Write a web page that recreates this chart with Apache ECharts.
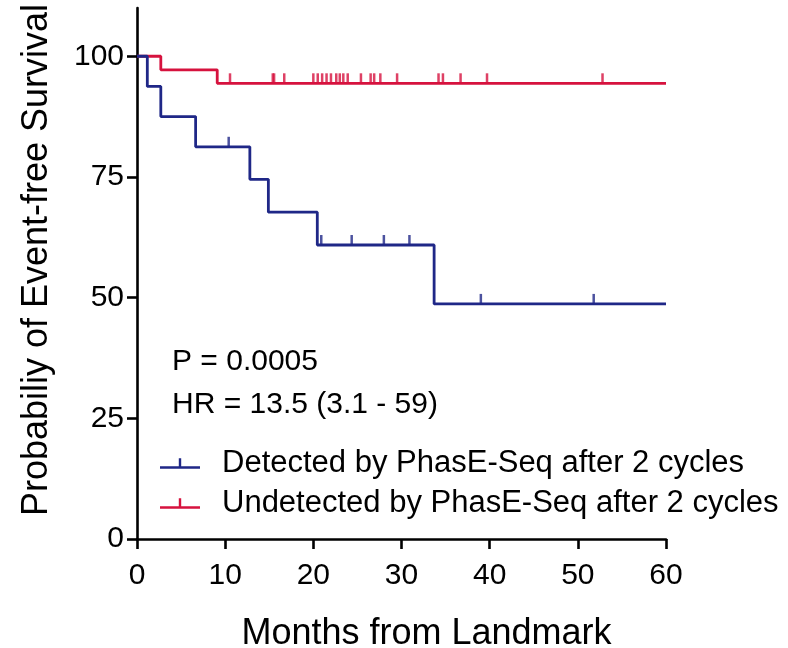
<!DOCTYPE html>
<html>
<head>
<meta charset="utf-8">
<script src="https://cdn.jsdelivr.net/npm/echarts@6/dist/echarts.min.js"></script>
<style>
html,body{margin:0;padding:0;background:#fff;}
#c{width:788px;height:648px;}
</style>
</head>
<body>
<div id="c"></div>
<script>
// ---- data ----
const seriesNames = ['Detected by PhasE-Seq after 2 cycles', 'Undetected by PhasE-Seq after 2 cycles'];
// KM steps: [month, survival %]
const detectedSteps = [[0,100],[1.17,93.75],[2.7,87.5],[6.65,81.25],[12.8,74.5],[14.9,67.7],[20.45,60.9],[33.7,48.7],[60,48.7]];
const undetectedSteps = [[0,100],[2.7,97.2],[9.1,94.4],[60,94.4]];
// censor times (months)
const detectedCensor = [10.4, 20.9, 24.35, 28.0, 30.9, 39.0, 51.8];
const undetectedCensor = [10.55, 15.4, 15.55, 16.7, 20.0, 20.5, 21.0, 21.5, 22.0, 22.6, 23.0, 23.4, 23.9, 25.4, 26.5, 26.9, 27.6, 29.5, 34.2, 34.7, 36.7, 39.7, 52.8];
const xTicks = [0,10,20,30,40,50,60];
const yTicks = [0,25,50,75,100];
const annotations = ['P = 0.0005', 'HR = 13.5 (3.1 - 59)'];
const xTitle = 'Months from Landmark';
const yTitle = 'Probabiliy of Event-free Survival';

const BLUE = '#1f2787';
const RED = '#d6123e';
const FONT = 'Liberation Sans, Arial, Helvetica, sans-serif';

function survAt(steps, t) {
  let v = steps[0][1];
  for (const [x, y] of steps) { if (x <= t) v = y; }
  return v;
}
const detCensorPts = detectedCensor.map(t => [t, survAt(detectedSteps, t)]);
const undCensorPts = undetectedCensor.map(t => [t, survAt(undetectedSteps, t)]);

const icon = 'path://M0,8 L40,8 L40,10.5 L0,10.5 Z M18.8,0 L21.2,0 L21.2,8 L18.8,8 Z';

const chart = echarts.init(document.getElementById('c'), null, {renderer: 'canvas'});
chart.setOption({
  animation: false,
  backgroundColor: '#fff',
  textStyle: {fontFamily: FONT},
  grid: {left: 137, top: 8, width: 529, height: 531, containLabel: false, outerBoundsMode: 'none'},
  xAxis: {
    type: 'value', min: 0, max: 60, interval: 10,
    name: xTitle, nameLocation: 'middle', nameGap: 77,
    nameTextStyle: {fontSize: 36, color: '#000', fontFamily: FONT, padding: [0,0,0,50]},
    axisLine: {show: true, lineStyle: {color: '#000', width: 2.6}},
    axisTick: {show: true, length: 10, lineStyle: {color: '#000', width: 2.6}, customValues: xTicks},
    axisLabel: {fontSize: 30, color: '#000', margin: 22, fontFamily: FONT, customValues: xTicks},
    splitLine: {show: false}
  },
  yAxis: {
    type: 'value', min: 0, max: 110,
    name: yTitle, nameLocation: 'middle', nameGap: 82, nameRotate: 90,
    nameTextStyle: {fontSize: 36, color: '#000', fontFamily: FONT, padding: [0,0,0,27]},
    axisLine: {show: true, lineStyle: {color: '#000', width: 2.6}},
    axisTick: {show: true, length: 10, lineStyle: {color: '#000', width: 2.6}, customValues: yTicks},
    axisLabel: {fontSize: 30, color: '#000', margin: 13, fontFamily: FONT, customValues: yTicks},
    splitLine: {show: false}
  },
  legend: {
    orient: 'vertical', left: 155, top: 443,
    itemWidth: 40, itemHeight: 10.5, itemGap: 9,
    textStyle: {fontSize: 31, color: '#000', fontFamily: FONT, lineHeight: 30, padding: [0,0,0,17]},
    data: [
      {name: seriesNames[0], icon: icon, itemStyle: {color: BLUE}},
      {name: seriesNames[1], icon: icon, itemStyle: {color: RED}}
    ]
  },
  graphic: [
    {type: 'text', left: 172, top: 347, style: {text: annotations[0], font: '30px ' + FONT, fill: '#000'}},
    {type: 'text', left: 172, top: 390, style: {text: annotations[1], font: '30px ' + FONT, fill: '#000'}}
  ],
  series: [
    {name: seriesNames[1], type: 'line', step: 'end', data: undetectedSteps, showSymbol: false, symbol: 'none',
     lineStyle: {color: RED, width: 2.8}, itemStyle: {color: RED}, z: 2},
    {name: seriesNames[1], type: 'scatter', data: undCensorPts, symbol: 'rect', symbolSize: [2.5, 10], symbolOffset: [0, -5],
     itemStyle: {color: RED}, z: 2},
    {name: seriesNames[0], type: 'line', step: 'end', data: detectedSteps, showSymbol: false, symbol: 'none',
     lineStyle: {color: BLUE, width: 2.8}, itemStyle: {color: BLUE}, z: 3},
    {name: seriesNames[0], type: 'scatter', data: detCensorPts, symbol: 'rect', symbolSize: [2.5, 10], symbolOffset: [0, -5],
     itemStyle: {color: BLUE}, z: 3}
  ]
});
</script>
</body>
</html>
